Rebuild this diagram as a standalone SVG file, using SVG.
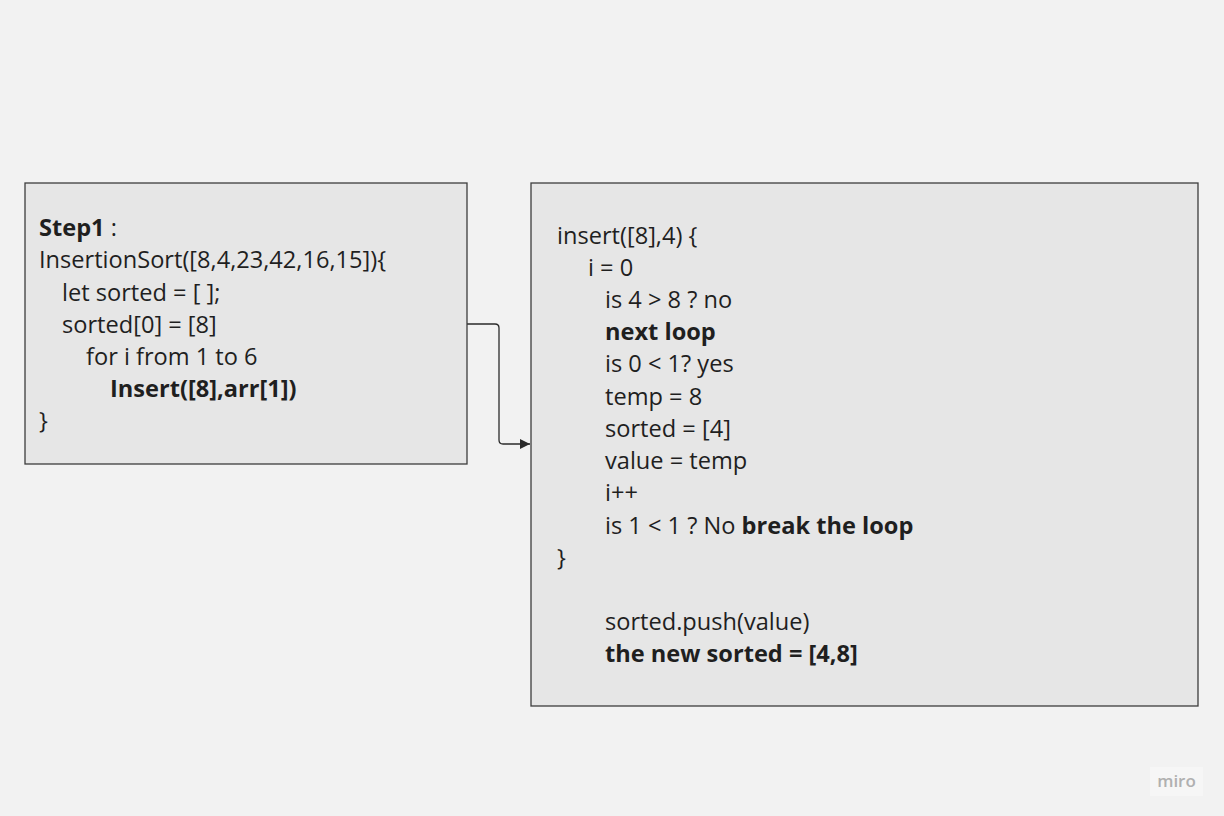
<svg xmlns="http://www.w3.org/2000/svg" width="1224" height="816" viewBox="0 0 1224 816">
<defs>
<style>
.box{fill:#e6e6e6;stroke:#3d3d3d;stroke-width:1.3}
.t{font-family:"Open Sans","Noto Sans",sans-serif;font-size:23.6px;fill:#1f1f1f}
.b{font-weight:bold}
.conn{fill:none;stroke:#2b2b2b;stroke-width:1.3}
</style>
<marker id="arr" viewBox="0 0 10 10" refX="10" refY="5" markerWidth="10" markerHeight="10" markerUnits="userSpaceOnUse" orient="auto">
<path d="M0,0 L10,5 L0,10 z" fill="#2b2b2b"/>
</marker>
</defs>
<rect width="1224" height="816" fill="#f2f2f2"/>
<g id="connectors">
<path class="conn" d="M467,324 H495 Q499,324 499,328 V440 Q499,444 503,444 H530" marker-end="url(#arr)"/>
</g>
<g id="step1">
<rect class="box" x="25" y="183" width="442" height="281"/>
<text class="t" x="39" y="236"><tspan class="b">Step1</tspan> :</text>
<text class="t" x="39" y="268.2">InsertionSort([8,4,23,42,16,15]){</text>
<text class="t" x="62" y="300.5">let sorted = [ ];</text>
<text class="t" x="62" y="332.5">sorted[0] = [8]</text>
<text class="t" x="86" y="365">for i from 1 to 6</text>
<text class="t b" x="110" y="397">Insert([8],arr[1])</text>
<text class="t" x="39" y="429.2">}</text>
</g>
<g id="insert">
<rect class="box" x="531" y="183" width="667" height="523"/>
<text class="t" x="557" y="243.5">insert([8],4) {</text>
<text class="t" x="588" y="275.5">i = 0</text>
<text class="t" x="605" y="308">is 4 &gt; 8 ? no</text>
<text class="t b" x="605" y="340">next loop</text>
<text class="t" x="605" y="372">is 0 &lt; 1? yes</text>
<text class="t" x="605" y="404.5">temp = 8</text>
<text class="t" x="605" y="436.5">sorted = [4]</text>
<text class="t" x="605" y="469">value = temp</text>
<text class="t" x="605" y="501">i++</text>
<text class="t" x="605" y="533.5">is 1 &lt; 1 ? No <tspan class="b">break the loop</tspan></text>
<text class="t" x="557" y="565.5">}</text>
<text class="t" x="605" y="630">sorted.push(value)</text>
<text class="t b" x="605" y="662">the new sorted = [4,8]</text>
</g>
<g id="watermark">
<rect x="1150" y="767" width="53" height="29" fill="#f6f6f6"/>
<text x="1176.5" y="787" text-anchor="middle" font-family="Open Sans, sans-serif" font-size="17" font-weight="600" fill="#b0b0b0">miro</text>
</g>
</svg>
